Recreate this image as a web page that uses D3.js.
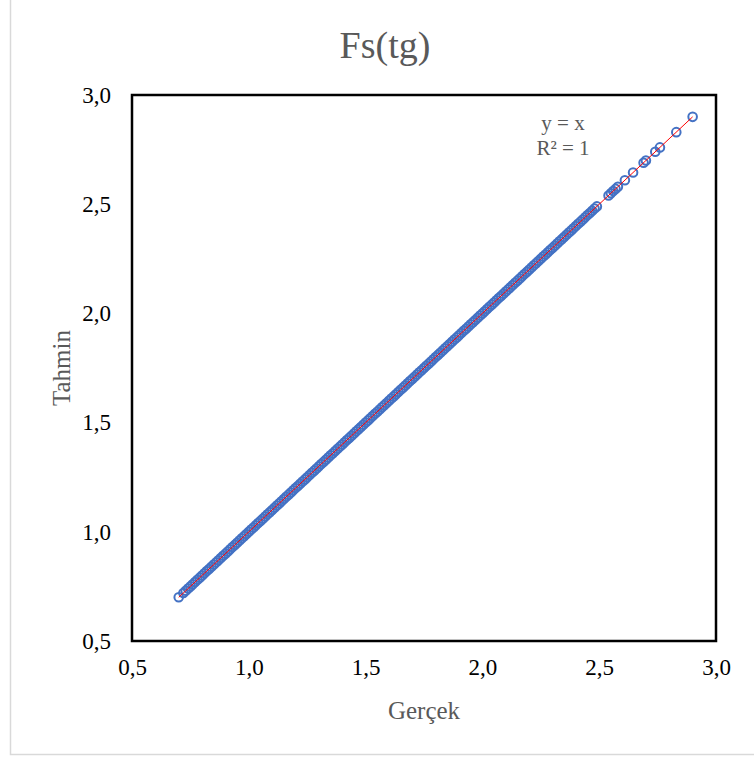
<!DOCTYPE html>
<html><head><meta charset="utf-8">
<script src="https://cdn.jsdelivr.net/npm/d3@7"></script>
<style>body{margin:0;background:#fff}svg{display:block}</style>
</head><body>
<script>
const gercek = [
0.70,0.72,0.73,0.74,0.75,0.76,0.77,0.78,0.79,
0.80,0.81,0.82,0.83,0.84,0.85,0.86,0.87,0.88,0.89,
0.90,0.91,0.92,0.93,0.94,0.95,0.96,0.97,0.98,0.99,
1.00,1.01,1.02,1.03,1.04,1.05,1.06,1.07,1.08,1.09,
1.10,1.11,1.12,1.13,1.14,1.15,1.16,1.17,1.18,1.19,
1.20,1.21,1.22,1.23,1.24,1.25,1.26,1.27,1.28,1.29,
1.30,1.31,1.32,1.33,1.34,1.35,1.36,1.37,1.38,1.39,
1.40,1.41,1.42,1.43,1.44,1.45,1.46,1.47,1.48,1.49,
1.50,1.51,1.52,1.53,1.54,1.55,1.56,1.57,1.58,1.59,
1.60,1.61,1.62,1.63,1.64,1.65,1.66,1.67,1.68,1.69,
1.70,1.71,1.72,1.73,1.74,1.75,1.76,1.77,1.78,1.79,
1.80,1.81,1.82,1.83,1.84,1.85,1.86,1.87,1.88,1.89,
1.90,1.91,1.92,1.93,1.94,1.95,1.96,1.97,1.98,1.99,
2.00,2.01,2.02,2.03,2.04,2.05,2.06,2.07,2.08,2.09,
2.10,2.11,2.12,2.13,2.14,2.15,2.16,2.17,2.18,2.19,
2.20,2.21,2.22,2.23,2.24,2.25,2.26,2.27,2.28,2.29,
2.30,2.31,2.32,2.33,2.34,2.35,2.36,2.37,2.38,2.39,
2.40,2.41,2.42,2.43,2.44,2.45,2.46,2.47,2.48,2.49,
2.54,2.55,2.56,2.57,2.58,2.61,2.645,2.69,2.70,2.74,2.76,2.83,2.90
];
const tahmin = [
0.70,0.72,0.73,0.74,0.75,0.76,0.77,0.78,0.79,
0.80,0.81,0.82,0.83,0.84,0.85,0.86,0.87,0.88,0.89,
0.90,0.91,0.92,0.93,0.94,0.95,0.96,0.97,0.98,0.99,
1.00,1.01,1.02,1.03,1.04,1.05,1.06,1.07,1.08,1.09,
1.10,1.11,1.12,1.13,1.14,1.15,1.16,1.17,1.18,1.19,
1.20,1.21,1.22,1.23,1.24,1.25,1.26,1.27,1.28,1.29,
1.30,1.31,1.32,1.33,1.34,1.35,1.36,1.37,1.38,1.39,
1.40,1.41,1.42,1.43,1.44,1.45,1.46,1.47,1.48,1.49,
1.50,1.51,1.52,1.53,1.54,1.55,1.56,1.57,1.58,1.59,
1.60,1.61,1.62,1.63,1.64,1.65,1.66,1.67,1.68,1.69,
1.70,1.71,1.72,1.73,1.74,1.75,1.76,1.77,1.78,1.79,
1.80,1.81,1.82,1.83,1.84,1.85,1.86,1.87,1.88,1.89,
1.90,1.91,1.92,1.93,1.94,1.95,1.96,1.97,1.98,1.99,
2.00,2.01,2.02,2.03,2.04,2.05,2.06,2.07,2.08,2.09,
2.10,2.11,2.12,2.13,2.14,2.15,2.16,2.17,2.18,2.19,
2.20,2.21,2.22,2.23,2.24,2.25,2.26,2.27,2.28,2.29,
2.30,2.31,2.32,2.33,2.34,2.35,2.36,2.37,2.38,2.39,
2.40,2.41,2.42,2.43,2.44,2.45,2.46,2.47,2.48,2.49,
2.54,2.55,2.56,2.57,2.58,2.61,2.645,2.69,2.70,2.74,2.76,2.83,2.90
];
const trendX = [0.70, 2.90];
const trendY = [0.70, 2.90];
const ticks = [0.5, 1.0, 1.5, 2.0, 2.5, 3.0];
const title = "Fs(tg)";
const xTitle = "Gerçek";
const yTitle = "Tahmin";
const eqLines = ["y = x", "R² = 1"];

const W = 754, H = 758;
const L = 132, R = 716, T = 95, B = 641;
const font = "'Liberation Serif','Times New Roman',serif";

const svg = d3.select("body").append("svg").attr("width", W).attr("height", H);
svg.append("rect").attr("x", 10.5).attr("y", -5).attr("width", 800).attr("height", 759.5)
  .attr("fill", "#fff").attr("stroke", "#d9d9d9").attr("stroke-width", 1.5);

const x = d3.scaleLinear().domain([0.5, 3.0]).range([L, R]);
const y = d3.scaleLinear().domain([0.5, 3.0]).range([B, T]);

const fmt = d => d3.format(".1f")(d).replace(".", ",");

const xAxis = svg.append("g").attr("transform", `translate(0,${B})`)
  .call(d3.axisBottom(x).tickValues(ticks).tickFormat(fmt).tickSize(0).tickPadding(18));
const yAxis = svg.append("g").attr("transform", `translate(${L},0)`)
  .call(d3.axisLeft(y).tickValues(ticks).tickFormat(fmt).tickSize(0).tickPadding(21));
[xAxis, yAxis].forEach(g => {
  g.select(".domain").remove();
  g.selectAll("text").attr("font-family", font).attr("font-size", 23).attr("fill", "#000");
});
xAxis.selectAll("text").attr("dy", "0.7em");

svg.append("rect").attr("x", L).attr("y", T).attr("width", R - L).attr("height", B - T)
  .attr("fill", "none").attr("stroke", "#000").attr("stroke-width", 2.5);

// points
svg.append("g").selectAll("circle").data(gercek.map((g, i) => [g, tahmin[i]])).join("circle")
  .attr("cx", d => x(d[0])).attr("cy", d => y(d[1])).attr("r", 4.3)
  .attr("fill", "none").attr("stroke", "#4472C4").attr("stroke-width", 2);

// trendline
svg.append("path").datum(trendX.map((v, i) => [v, trendY[i]]))
  .attr("d", d3.line().x(d => x(d[0])).y(d => y(d[1])))
  .attr("stroke", "#FF0000").attr("stroke-width", 1).attr("fill", "none");

svg.append("text").attr("x", 385).attr("y", 58).attr("text-anchor", "middle")
  .attr("font-family", font).attr("font-size", 38).attr("fill", "#595959").text(title);
svg.append("text").attr("x", (L + R) / 2).attr("y", 719).attr("text-anchor", "middle")
  .attr("font-family", font).attr("font-size", 25).attr("fill", "#595959").text(xTitle);
svg.append("text").attr("transform", `translate(70,${(T + B) / 2}) rotate(-90)`).attr("text-anchor", "middle")
  .attr("font-family", font).attr("font-size", 25).attr("fill", "#595959").text(yTitle);

eqLines.forEach((t, i) => {
  svg.append("text").attr("x", 563).attr("y", 130 + i * 25).attr("text-anchor", "middle")
    .attr("font-family", font).attr("font-size", 21).attr("fill", "#595959").text(t);
});
</script>
</body></html>
